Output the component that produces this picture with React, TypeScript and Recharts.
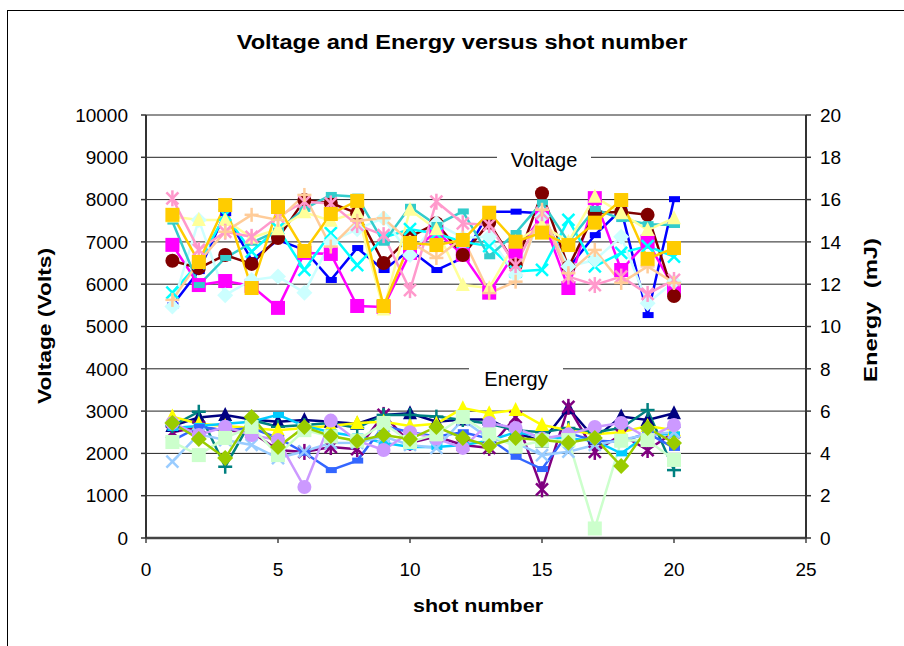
import React from "react";
import { LineChart, Line, XAxis, YAxis, CartesianGrid } from "recharts";

// shot numbers
const shots = [1, 2, 3, 4, 5, 6, 7, 8, 9, 10, 11, 12, 13, 14, 15, 16, 17, 18, 19, 20];

// voltage series (Volts)
const vBlue = [5500, 6310, 7680, 6570, 7045, 6810, 6100, 6855, 6335, 6810, 6335, 6620, 7715, 7715, 7680, 6380, 7160, 7760, 5270, 8010];
const vMagenta = [6930, 5980, 6075, 5960, 5440, 6740, 6715, 5485, 5460, 6740, 7240, 6700, 5800, 6770, 7600, 5910, 8035, 6335, 7005, 5910];
const vDarkRed = [6555, 6380, 6690, 6480, 7090, 7990, 7920, 7680, 6500, 7120, 7440, 6690, 7450, 6450, 8150, 6400, 7680, 7710, 7640, 5720];
const vCyan = [5800, 6500, 7640, 6770, 7320, 6340, 7210, 6450, 7100, 7300, 7200, 7000, 6900, 6300, 6340, 7520, 6420, 6740, 6900, 6650];
const vLightCyan = [5470, 7520, 5740, 6100, 6180, 5800, 7000, 7300, 7560, 6690, 7440, 7100, 7120, 6220, 7600, 6420, 6570, 7120, 5550, 6060];
const vTeal = [7480, 5980, 6620, 6980, 7265, 7780, 8110, 8070, 6980, 7830, 7400, 7720, 6660, 7210, 7935, 7000, 7780, 7540, 7420, 7400];
const vLightYellow = [7600, 7520, 7520, 7100, 7300, 7700, 7500, 7700, 5400, 7760, 7300, 5980, 5910, 7000, 7400, 7000, 8070, 7680, 7280, 7560];
const vPink = [8030, 6810, 7240, 7120, 7600, 7950, 7910, 7400, 7160, 5860, 7950, 7440, 7400, 6450, 7680, 6180, 5980, 6180, 5770, 6100];
const vPeach = [5630, 6530, 7240, 7640, 7520, 8110, 6890, 7500, 7560, 7000, 6620, 7100, 5790, 6060, 7760, 6260, 6810, 6030, 6420, 6030];
const vGold = [7640, 6525, 7870, 5910, 7825, 6785, 7660, 7970, 5485, 6975, 6925, 7045, 7690, 7005, 7220, 6925, 7455, 7990, 6600, 6855];

// energy series (mJ)
const eNavy = [5.3, 5.7, 5.82, 5.6, 5.5, 5.58, 5.5, 5.4, 5.82, 5.9, 5.5, 5.6, 5.6, 5.0, 4.55, 6.14, 4.7, 5.74, 5.58, 5.9];
const ePurple = [5.0, 5.25, 5.1, 5.0, 4.16, 4.07, 4.3, 4.2, 5.82, 4.5, 4.8, 4.4, 4.26, 5.72, 2.3, 6.2, 4.07, 4.9, 4.16, 5.0];
const eTeal = [5.3, 5.97, 3.37, 5.58, 5.26, 5.34, 5.44, 5.2, 5.82, 5.82, 5.74, 5.58, 5.4, 5.1, 5.0, 5.2, 5.0, 5.2, 6.05, 3.21];
const eYellow = [5.74, 5.4, 5.3, 5.2, 5.1, 5.2, 5.3, 5.44, 5.5, 5.3, 5.4, 6.14, 5.9, 6.05, 5.34, 5.1, 4.9, 5.0, 5.3, 5.1];
const eSky = [5.2, 5.3, 5.4, 5.5, 5.82, 5.3, 5.0, 4.8, 4.5, 4.3, 4.3, 4.4, 4.6, 5.0, 4.8, 4.7, 4.6, 4.0, 4.9, 4.9];
const eBlue = [4.6, 5.25, 5.1, 5.2, 4.73, 4.03, 3.21, 3.66, 5.3, 5.0, 4.8, 5.0, 4.7, 3.84, 3.26, 4.96, 4.6, 4.55, 4.96, 4.26];
const eLightBlue = [3.61, 4.9, 4.63, 4.4, 3.78, 4.1, 4.49, 4.5, 4.8, 4.4, 4.26, 5.58, 4.7, 4.5, 3.92, 4.08, 4.4, 4.63, 4.9, 5.0];
const eLavender = [5.44, 4.87, 5.26, 4.87, 4.63, 2.41, 5.55, 4.6, 4.16, 5.0, 4.7, 4.26, 5.44, 5.2, 4.7, 4.9, 5.25, 5.44, 4.73, 5.34];
const eLightGreen = [4.54, 3.92, 4.73, 5.25, 3.92, 5.1, 4.8, 4.6, 5.44, 4.54, 4.9, 5.72, 4.9, 4.32, 4.6, 4.63, 0.45, 4.6, 4.63, 3.69];
const eGreen = [5.44, 4.68, 3.78, 5.72, 4.3, 5.25, 4.82, 4.59, 4.87, 4.68, 5.25, 4.73, 4.35, 4.73, 4.63, 4.5, 4.73, 3.4, 5.2, 4.49];

const xTicks = [0, 5, 10, 15, 20, 25];
const vTicks = [0, 1000, 2000, 3000, 4000, 5000, 6000, 7000, 8000, 9000, 10000];
const eTicks = [0, 2, 4, 6, 8, 10, 12, 14, 16, 18, 20];

type Shape = "square" | "dash" | "circle" | "diamond" | "triangle" | "x" | "plus" | "star";

const series: { key: string; axis: "v" | "e"; color: string; shape: Shape; values: number[] }[] = [
  { key: "eNavy", axis: "e", color: "#000080", shape: "triangle", values: eNavy },
  { key: "ePurple", axis: "e", color: "#800080", shape: "star", values: ePurple },
  { key: "eTeal", axis: "e", color: "#008080", shape: "plus", values: eTeal },
  { key: "eYellow", axis: "e", color: "#ffff00", shape: "triangle", values: eYellow },
  { key: "eSky", axis: "e", color: "#00ccff", shape: "dash", values: eSky },
  { key: "eBlue", axis: "e", color: "#3366ff", shape: "dash", values: eBlue },
  { key: "eLightBlue", axis: "e", color: "#99ccff", shape: "x", values: eLightBlue },
  { key: "eLavender", axis: "e", color: "#cc99ff", shape: "circle", values: eLavender },
  { key: "eLightGreen", axis: "e", color: "#ccffcc", shape: "square", values: eLightGreen },
  { key: "eGreen", axis: "e", color: "#99cc00", shape: "diamond", values: eGreen },
  { key: "vBlue", axis: "v", color: "#0000ff", shape: "dash", values: vBlue },
  { key: "vMagenta", axis: "v", color: "#ff00ff", shape: "square", values: vMagenta },
  { key: "vDarkRed", axis: "v", color: "#800000", shape: "circle", values: vDarkRed },
  { key: "vCyan", axis: "v", color: "#00ffff", shape: "x", values: vCyan },
  { key: "vLightCyan", axis: "v", color: "#ccffff", shape: "diamond", values: vLightCyan },
  { key: "vTeal", axis: "v", color: "#33cccc", shape: "dash", values: vTeal },
  { key: "vLightYellow", axis: "v", color: "#ffff99", shape: "triangle", values: vLightYellow },
  { key: "vPink", axis: "v", color: "#ff99cc", shape: "star", values: vPink },
  { key: "vPeach", axis: "v", color: "#ffcc99", shape: "plus", values: vPeach },
  { key: "vGold", axis: "v", color: "#ffcc00", shape: "square", values: vGold },
];

const data = shots.map((s, i) => {
  const row: Record<string, number> = { shot: s };
  series.forEach((sr) => (row[sr.key] = sr.values[i]));
  return row;
});

function marker(shape: Shape, color: string, name: string) {
  return (p: any) => {
    const { cx, cy, index } = p;
    const k = `${name}-${index}`;
    if (cx == null || cy == null) return <g key={k} />;
    const s = 7;
    switch (shape) {
      case "square":
        return <rect key={k} x={cx - s} y={cy - s} width={s * 2} height={s * 2} fill={color} />;
      case "dash":
        return <rect key={k} x={cx - 5} y={cy - 3} width={11} height={6} fill={color} />;
      case "circle":
        return <circle key={k} cx={cx} cy={cy} r={s} fill={color} />;
      case "diamond":
        return <polygon key={k} points={`${cx},${cy - 8} ${cx + 8},${cy} ${cx},${cy + 8} ${cx - 8},${cy}`} fill={color} />;
      case "triangle":
        return <polygon key={k} points={`${cx},${cy - 8} ${cx + 7},${cy + 6} ${cx - 7},${cy + 6}`} fill={color} />;
      case "x":
        return (
          <g key={k} stroke={color} strokeWidth={2.5}>
            <line x1={cx - 6} y1={cy - 6} x2={cx + 6} y2={cy + 6} />
            <line x1={cx - 6} y1={cy + 6} x2={cx + 6} y2={cy - 6} />
          </g>
        );
      case "plus":
        return (
          <g key={k} stroke={color} strokeWidth={2.5}>
            <line x1={cx - 7} y1={cy} x2={cx + 7} y2={cy} />
            <line x1={cx} y1={cy - 7} x2={cx} y2={cy + 7} />
          </g>
        );
      default:
        return (
          <g key={k} stroke={color} strokeWidth={2.5}>
            <line x1={cx - 6} y1={cy - 6} x2={cx + 6} y2={cy + 6} />
            <line x1={cx - 6} y1={cy + 6} x2={cx + 6} y2={cy - 6} />
            <line x1={cx} y1={cy - 8} x2={cx} y2={cy + 8} />
          </g>
        );
    }
  };
}

const font = "'Liberation Sans', Arial, sans-serif";
const tickStyle = { fontFamily: font, fontSize: 19, fill: "#000" };

export default function App() {
  return (
    <div style={{ position: "fixed", left: 0, top: 0, width: 904, height: 646, background: "#fff", fontFamily: font }}>
      <div style={{ position: "absolute", left: 7, top: 10, width: 900, height: 640, borderLeft: "1.5px solid #000", borderTop: "1.5px solid #000" }} />
      <LineChart width={904} height={646} data={data} margin={{ top: 115, right: 38, bottom: 68, left: 86 }}>
        <CartesianGrid yAxisId="v" vertical={false} stroke="#222" strokeWidth={1} horizontalValues={vTicks} />
        <XAxis
          dataKey="shot"
          type="number"
          domain={[0, 25]}
          ticks={xTicks}
          height={40}
          tick={tickStyle}
          tickSize={5}
          tickMargin={20}
          axisLine={{ stroke: "#444", strokeWidth: 2.5 }}
          tickLine={{ stroke: "#444", strokeWidth: 1.5 }}
          allowDataOverflow
        />
        <YAxis
          yAxisId="v"
          orientation="left"
          domain={[0, 10000]}
          ticks={vTicks}
          width={60}
          tick={tickStyle}
          tickSize={5}
          tickMargin={13}
          interval={0}
          axisLine={{ stroke: "#333", strokeWidth: 2 }}
          tickLine={{ stroke: "#333", strokeWidth: 1.5 }}
        />
        <YAxis
          yAxisId="e"
          orientation="right"
          domain={[0, 20]}
          ticks={eTicks}
          width={60}
          tick={tickStyle}
          tickSize={5}
          tickMargin={9}
          interval={0}
          axisLine={{ stroke: "#333", strokeWidth: 2 }}
          tickLine={{ stroke: "#333", strokeWidth: 1.5 }}
        />
        {series.map((sr) => (
          <Line
            key={sr.key}
            yAxisId={sr.axis}
            dataKey={sr.key}
            type="linear"
            stroke={sr.color}
            strokeWidth={2.5}
            dot={marker(sr.shape, sr.color, sr.key)}
            activeDot={false}
            isAnimationActive={false}
          />
        ))}
      </LineChart>
      <div
        style={{
          position: "absolute",
          left: 462,
          top: 42,
          transform: "translate(-50%, -50%) scaleX(1.18)",
          whiteSpace: "nowrap",
          fontWeight: "bold",
          fontSize: 20,
        }}
      >
        Voltage and Energy versus shot number
      </div>
      <div style={{ position: "absolute", left: 497, top: 148, width: 94, textAlign: "center", fontSize: 20, background: "#fff", lineHeight: "24px" }}>
        Voltage
      </div>
      <div style={{ position: "absolute", left: 469, top: 367, width: 94, textAlign: "center", fontSize: 20, background: "#fff", lineHeight: "24px" }}>
        Energy
      </div>
      <div
        style={{
          position: "absolute",
          left: 478,
          top: 606,
          transform: "translate(-50%, -50%) scaleX(1.13)",
          whiteSpace: "nowrap",
          fontWeight: "bold",
          fontSize: 19,
        }}
      >
        shot number
      </div>
      <div
        style={{
          position: "absolute",
          left: 45,
          top: 326,
          transform: "translate(-50%, -50%) rotate(-90deg) scaleX(1.2)",
          whiteSpace: "nowrap",
          fontWeight: "bold",
          fontSize: 19,
        }}
      >
        Voltage (Volts)
      </div>
      <div
        style={{
          position: "absolute",
          left: 871,
          top: 310,
          transform: "translate(-50%, -50%) rotate(-90deg) scaleX(1.25)",
          whiteSpace: "pre",
          fontWeight: "bold",
          fontSize: 19,
        }}
      >
        {"Energy  (mJ)"}
      </div>
    </div>
  );
}
